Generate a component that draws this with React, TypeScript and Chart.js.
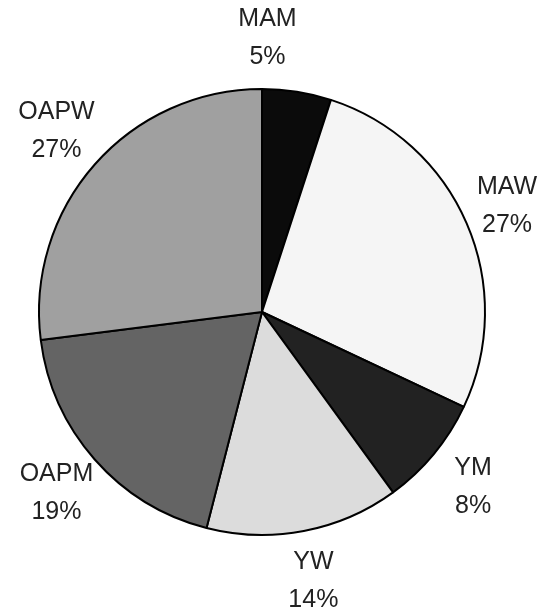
import React, { useEffect, useRef } from "react";
import { Chart, registerables } from "chart.js";

Chart.register(...registerables);

const categories = ["MAM", "MAW", "YM", "YW", "OAPM", "OAPW"];
const values = [5, 27, 8, 14, 19, 27];
const percentLabels = ["5%", "27%", "8%", "14%", "19%", "27%"];
const sliceColors = ["#0b0b0b", "#f5f5f5", "#222222", "#dcdcdc", "#646464", "#a0a0a0"];

const labelPlugin = {
  id: "outerLabels",
  afterDatasetsDraw(chart: any) {
    const ctx = chart.ctx;
    const meta = chart.getDatasetMeta(0);
    ctx.save();
    ctx.fillStyle = "#222";
    ctx.font = "25px 'Liberation Sans', Arial, sans-serif";
    ctx.textAlign = "center";
    ctx.textBaseline = "middle";
    meta.data.forEach((arc: any, i: number) => {
      const p = arc.getProps(["x", "y", "startAngle", "endAngle", "outerRadius"], true);
      let mid = (p.startAngle + p.endAngle) / 2;
      if (i === 0) mid = -Math.PI / 2 + 0.02;
      const d = p.outerRadius + (i === 1 ? 44 : 51);
      const cx = p.x + Math.cos(mid) * d;
      const cy = p.y + Math.sin(mid) * d;
      ctx.fillText(categories[i], cx, cy - 19);
      ctx.fillText(percentLabels[i], cx, cy + 19);
    });
    ctx.restore();
  },
};

export default function App() {
  const ref = useRef<HTMLCanvasElement>(null);
  useEffect(() => {
    document.body.style.margin = "0";
    const chart = new Chart(ref.current!, {
      type: "pie",
      data: {
        labels: categories,
        datasets: [
          {
            data: values,
            backgroundColor: sliceColors,
            borderColor: "#000",
            borderWidth: 2,
          },
        ],
      },
      options: {
        responsive: false,
        animation: false,
        layout: { padding: { left: 38, right: 57, top: 88, bottom: 76 } },
        plugins: { legend: { display: false }, tooltip: { enabled: false } },
      },
      plugins: [labelPlugin],
    });
    return () => chart.destroy();
  }, []);
  return (
    <div style={{ position: "absolute", left: 0, top: 0, width: 543, height: 612, background: "#fff" }}>
      <canvas ref={ref} width={543} height={612} />
    </div>
  );
}
